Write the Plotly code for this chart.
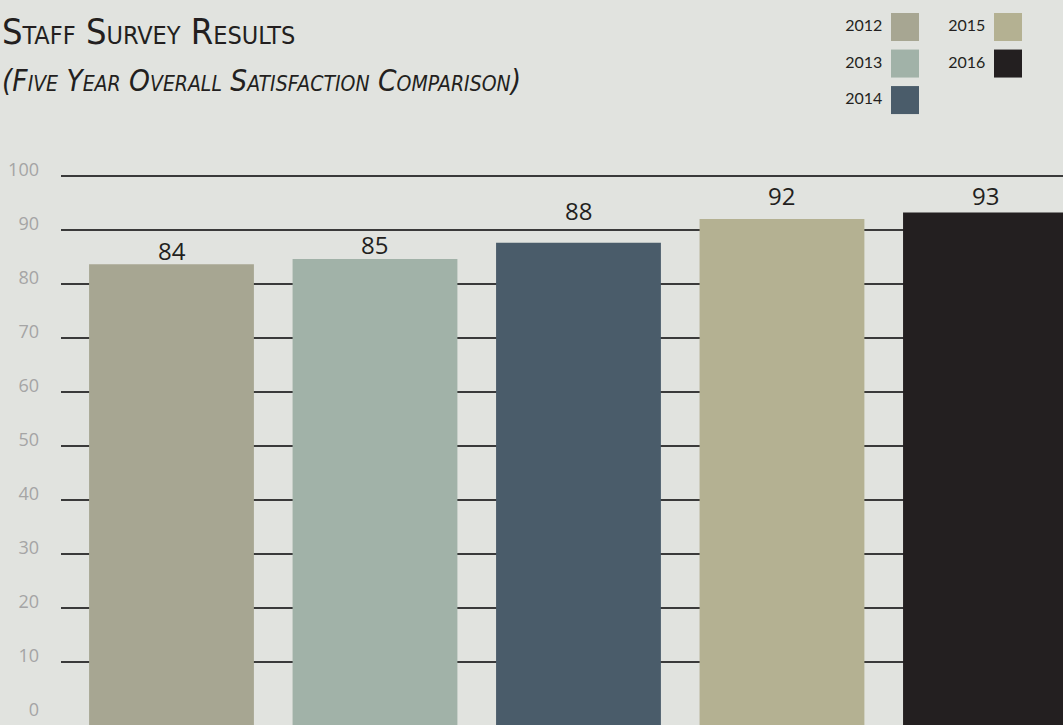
import plotly.graph_objects as go

# ---- data ----
years = ["2012", "2013", "2014", "2015", "2016"]
satisfaction = [83.6, 84.6, 87.6, 92.0, 93.2]
bar_colors = ["#a7a692", "#a1b2a8", "#4a5c6a", "#b4b192", "#231f20"]
y_ticks = [0, 10, 20, 30, 40, 50, 60, 70, 80, 90, 100]

title_text = "Staff Survey Results"
subtitle_text = "(Five Year Overall Satisfaction Comparison)"

# ---- layout / style constants ----
W, H = 1063, 725
L_MARGIN = 61
PLOT_TOP = 150
Y_MIN = -1.67
Y_MAX = 104.76
BG = "#e1e3df"
INK = "#231f20"
# vertical nudge (px) of each value label above its bar top
label_lift = [14, 14, 32, 23, 17]

fig = go.Figure()

# main bars (drawn from the bottom of the axis up to each value)
fig.add_trace(go.Bar(
    x=years,
    y=[v - Y_MIN for v in satisfaction],
    base=Y_MIN,
    marker=dict(color=bar_colors, line=dict(width=0)),
    showlegend=False,
    hoverinfo="skip",
))

# custom legend (label to the left of each swatch), laid out in columns of 3
leg_x = [i // 3 for i in range(len(years))]
leg_y = [i % 3 for i in range(len(years))]
fig.add_trace(go.Scatter(
    x=leg_x, y=leg_y,
    xaxis="x2", yaxis="y2",
    mode="markers+text",
    text=years,
    texttemplate="%{text}\u00a0",
    textposition="middle left",
    textfont=dict(family="Lato, Open Sans, sans-serif", size=16, color=INK),
    marker=dict(symbol="square", size=28, color=bar_colors, line=dict(width=0)),
    cliponaxis=False,
    showlegend=False,
    hoverinfo="skip",
))

# value labels (category axis -> annotation x is the category index)
annotations = [
    dict(
        text=f"{v:.0f}",
        x=i, y=v, xref="x", yref="y",
        yanchor="middle", xanchor="center",
        yshift=lift,
        showarrow=False,
        font=dict(family="Open Sans, Noto Sans, sans-serif", size=24, color=INK),
    )
    for i, (v, lift) in enumerate(zip(satisfaction, label_lift))
]

plot_w = W - L_MARGIN
annotations += [
    dict(
        text=title_text,
        xref="paper", yref="paper",
        x=-L_MARGIN / plot_w, y=1 - 31 / H,
        xanchor="left", yanchor="middle",
        showarrow=False,
        font=dict(family="Liberation Sans Narrow, DejaVu Sans Condensed, sans-serif",
                  size=36, color=INK, variant="small-caps"),
    ),
    dict(
        text=subtitle_text,
        xref="paper", yref="paper",
        x=-L_MARGIN / plot_w, y=1 - 81 / H,
        xanchor="left", yanchor="middle",
        showarrow=False,
        font=dict(family="Liberation Sans Narrow, DejaVu Sans Condensed, sans-serif",
                  size=29.5, color=INK, variant="small-caps", style="italic"),
    ),
]

fig.update_layout(
    width=W, height=H,
    margin=dict(l=L_MARGIN, r=0, t=0, b=0, pad=0),
    paper_bgcolor=BG,
    plot_bgcolor=BG,
    bargap=0.19,
    xaxis=dict(
        type="category",
        range=[-0.543, 4.381],
        showticklabels=False,
        showgrid=False,
        zeroline=False,
        showline=False,
        ticks="",
    ),
    yaxis=dict(
        domain=[0, (H - PLOT_TOP) / H],
        range=[Y_MIN, Y_MAX],
        tickmode="array",
        tickvals=y_ticks,
        showgrid=True,
        gridcolor="#3a3a3a",
        gridwidth=1.5,
        zeroline=True,
        zerolinecolor=BG,
        zerolinewidth=2,
        showline=False,
        ticks="",
        ticklabelshift=-6,
        ticklabelstandoff=21,
        tickfont=dict(family="Open Sans, Noto Sans, sans-serif", size=18, color="#a5a5a5"),
    ),
    xaxis2=dict(
        domain=[(861 - L_MARGIN) / plot_w, (1052 - L_MARGIN) / plot_w],
        range=[-0.427, 1.427],
        visible=False,
        anchor="y2",
    ),
    yaxis2=dict(
        domain=[1 - 130 / H, 1],
        range=[2.82, -0.74],
        visible=False,
        anchor="x2",
    ),
    annotations=annotations,
)

fig.write_html(
    "out.html",
    config={"displayModeBar": False},
    post_script="document.body.style.margin='0px';document.body.style.overflow='hidden';",
)
